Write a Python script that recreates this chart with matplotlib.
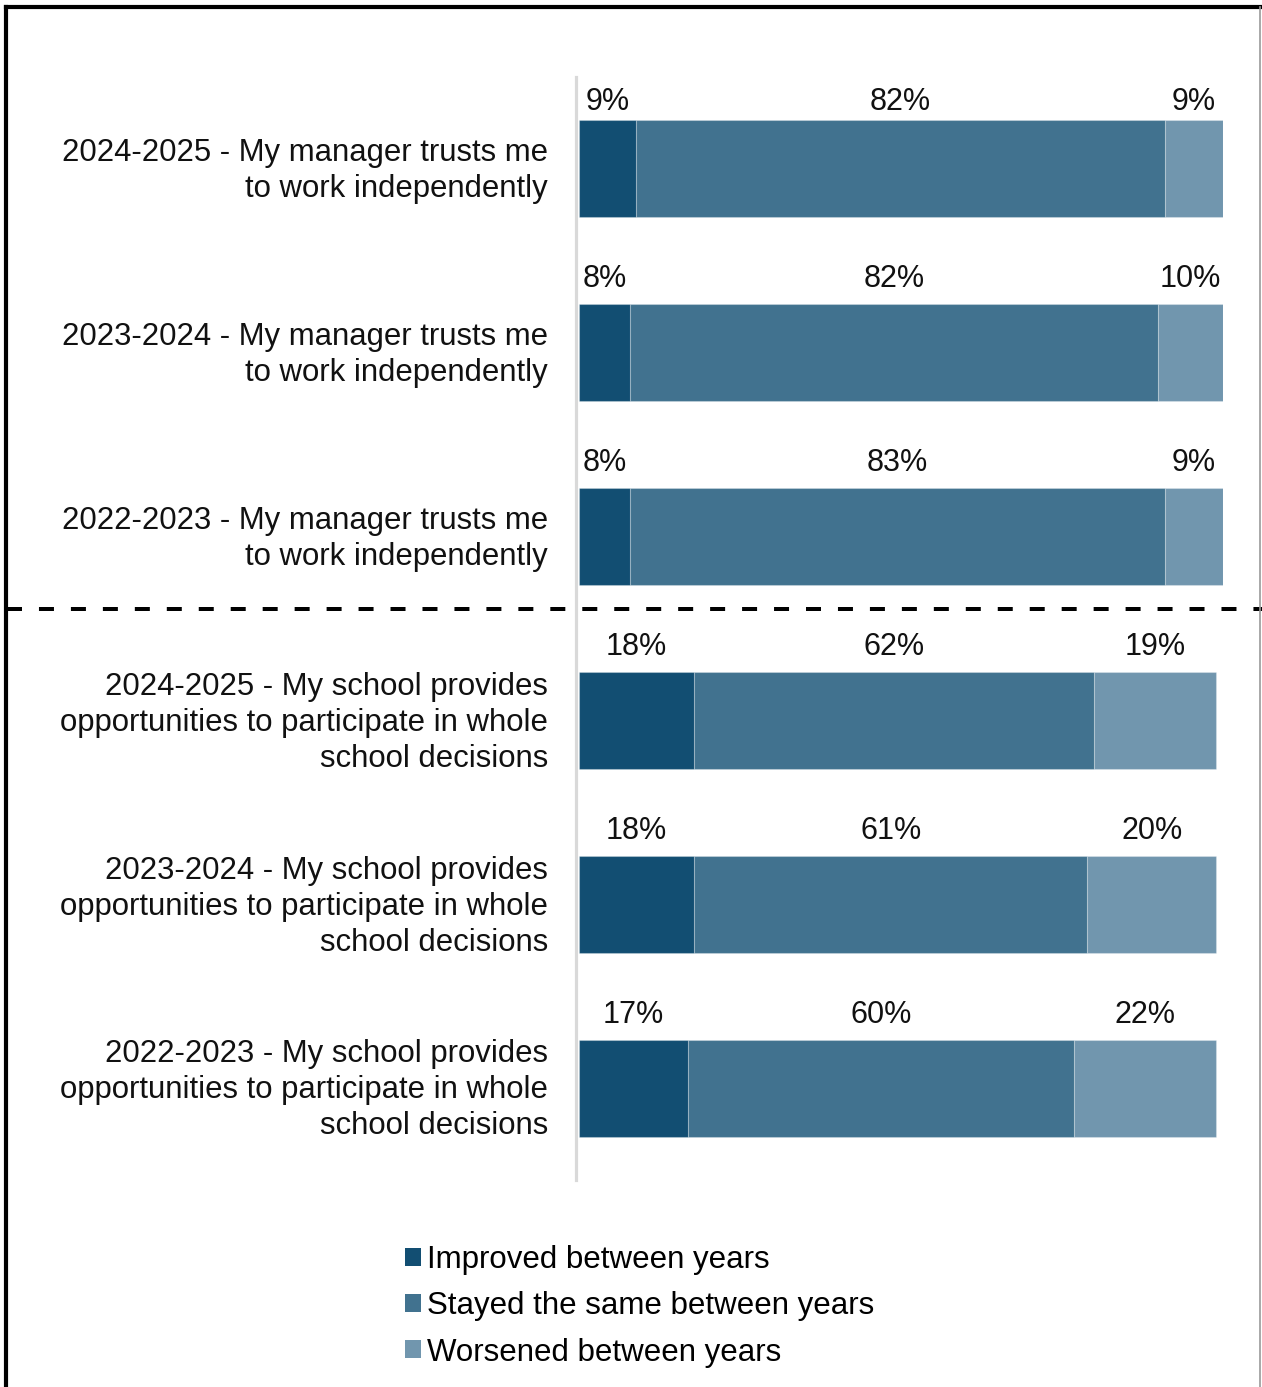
import matplotlib
matplotlib.use("Agg")
import matplotlib.pyplot as plt
from matplotlib.patches import Patch
from matplotlib.lines import Line2D
from matplotlib.transforms import ScaledTranslation

plt.rcParams['font.family'] = ['Liberation Sans', 'DejaVu Sans']

categories = [
    "2024-2025 - My manager trusts me\nto work independently",
    "2023-2024 - My manager trusts me\nto work independently",
    "2022-2023 - My manager trusts me\nto work independently",
    "2024-2025 - My school provides\nopportunities to participate in whole\nschool decisions",
    "2023-2024 - My school provides\nopportunities to participate in whole\nschool decisions",
    "2022-2023 - My school provides\nopportunities to participate in whole\nschool decisions",
]
improved = [9, 8, 8, 18, 18, 17]
stayed_same = [82, 82, 83, 62, 61, 60]
worsened = [9, 10, 9, 19, 20, 22]
series_names = ["Improved between years", "Stayed the same between years",
                "Worsened between years"]
series_colors = ["#124e72", "#41728f", "#7196ae"]

W, H = 1262, 1387
FS = 22
CAT_FS = 22.4
LEG_FS = 22.5
fig = plt.figure(figsize=(W / 100, H / 100), dpi=100)
ax = fig.add_axes([578.5 / W, 1 - 1180 / H, 644 / W, 1103 / H])

# Spine placement first: moving a spine rebuilds the ticks
for side in ["top", "right", "bottom"]:
    ax.spines[side].set_visible(False)
ax.spines["left"].set_color("#d9d9d9")
ax.spines["left"].set_linewidth(2.3)
ax.spines["left"].set_position(("outward", 1.5))

ypos = list(range(len(categories)))
bar_h = 0.528
ax.set_xlim(0, 100)
ax.set_ylim(len(categories) - 0.5, -0.5)

# Value labels sit 17 px above each bar, but never higher than 88 px from the top
label_gap = 17
cap_h = 0.716 * FS * 100 / 72
top_limit = H - 88

left = [0] * len(categories)
for vals, color in zip([improved, stayed_same, worsened], series_colors):
    ax.barh(ypos, vals, left=left, height=bar_h, color=color,
            edgecolor=(1, 1, 1, 0.25), linewidth=0.8)
    for yi, l, v in zip(ypos, left, vals):
        xc = l + v / 2
        ytop = yi - bar_h / 2
        top_disp = ax.transData.transform((xc, ytop))[1]
        base = min(top_disp + label_gap, top_limit - cap_h)
        ax.annotate(f"{v}%", xy=(xc, ytop), xytext=(0, base - top_disp),
                    textcoords="offset pixels", ha="center", va="baseline",
                    fontsize=FS, color="#111111")
    left = [a + b for a, b in zip(left, vals)]

ax.set_xticks([])
ax.set_yticks(ypos)
ax.set_yticklabels(categories)
ax.tick_params(axis="y", length=0, pad=20.5, labelsize=CAT_FS, labelcolor="#111111")
lift = ScaledTranslation(0, 3 / 72, fig.dpi_scale_trans)
for lab in ax.get_yticklabels():
    lab.set_horizontalalignment("right")
    lab.set_multialignment("right")
    lab.set_linespacing(1.26)
    lab.set_transform(lab.get_transform() + lift)

# Dashed divider between the two survey statements
fig.add_artist(Line2D([7 / W, 1], [1 - 609 / H] * 2, transform=fig.transFigure,
                      color="black", lw=2.88, linestyle=(0, (3.75, 4.24))))

# Outer frame
fig.add_artist(Line2D([6 / W, 1259.5 / W], [1 - 7 / H] * 2, transform=fig.transFigure,
                      color="black", lw=3, solid_capstyle="projecting"))
fig.add_artist(Line2D([6 / W] * 2, [0, 1 - 7 / H], transform=fig.transFigure,
                      color="black", lw=3))
fig.add_artist(Line2D([1259.5 / W] * 2, [0, 1 - 7 / H], transform=fig.transFigure,
                      color="#9a9a9a", lw=1.2))

handles = [Patch(facecolor=c, edgecolor="none") for c in series_colors]
fig.legend(handles, series_names, loc="upper left",
           bbox_to_anchor=(405 / W, 1 - 1245 / H), frameon=False, fontsize=LEG_FS,
           handlelength=0.51, handleheight=0.51, handletextpad=0.2,
           labelspacing=0.52, borderpad=0, borderaxespad=0)

fig.savefig("out.png", dpi=100, facecolor="white")
